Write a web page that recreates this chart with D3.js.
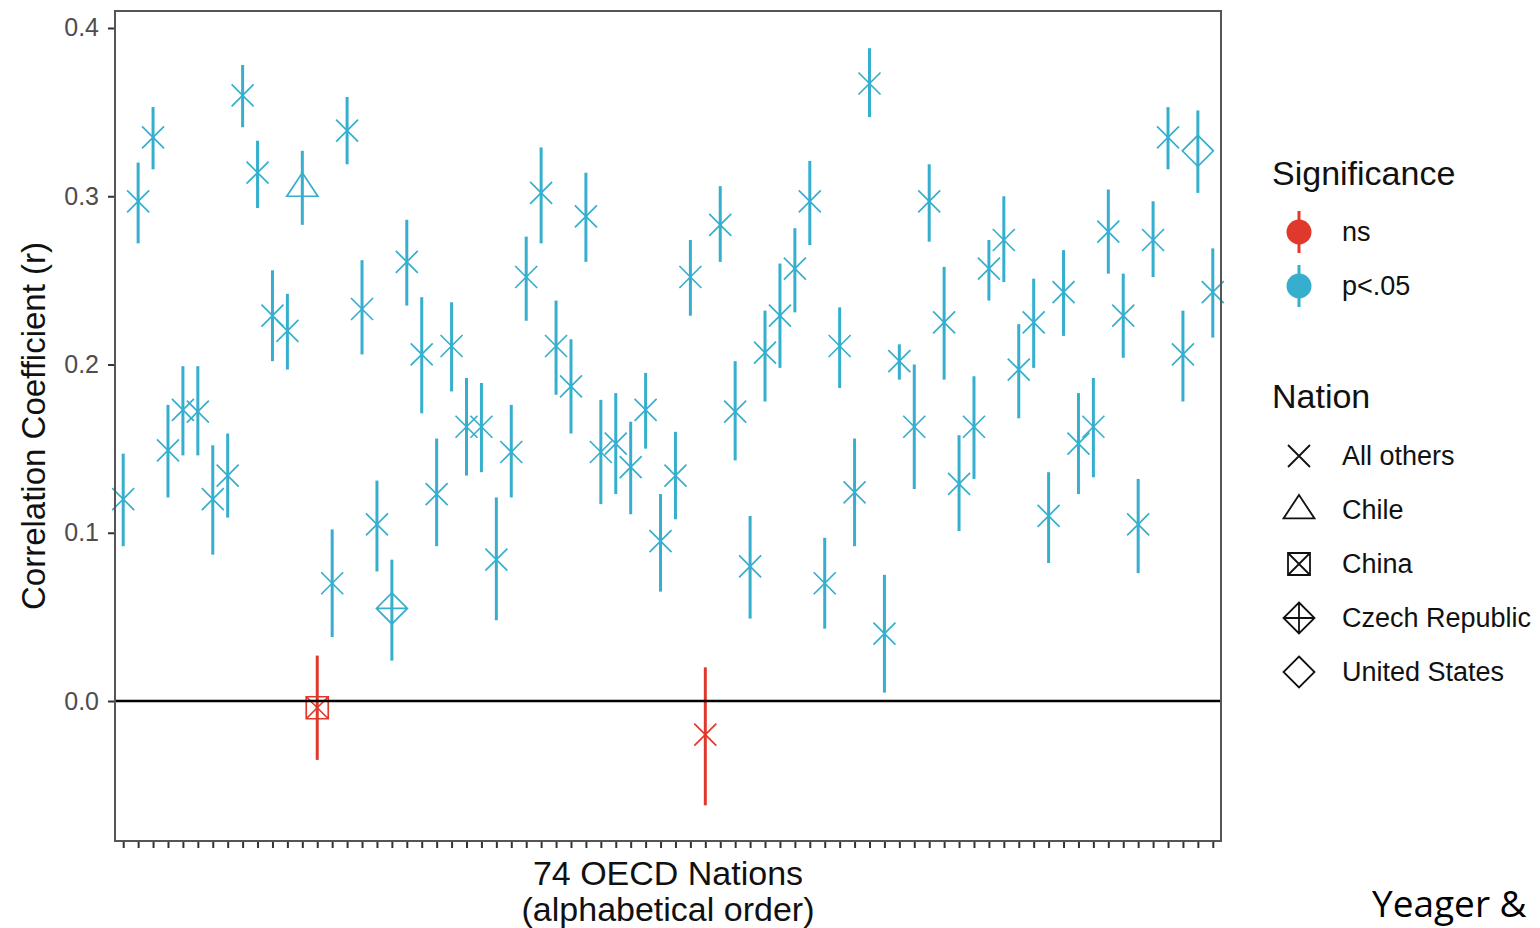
<!DOCTYPE html>
<html>
<head>
<meta charset="utf-8">
<script src="https://cdn.jsdelivr.net/npm/d3@7"></script>
<style>
    body { margin: 0; background: #fff; }
    svg { display: block; }
    text { font-family: "Liberation Sans", Arial, Helvetica, sans-serif; }
</style>
</head>
<body>
<div id="chart"></div>
<script>
// 74 OECD nations, alphabetical order (only the index is shown)
const nations = d3.range(1, 75).map(String);

// correlation estimates and their confidence limits
const estimates = [
    0.120, 0.297, 0.335, 0.149, 0.173, 0.172, 0.120, 0.134, 0.360, 0.314,
    0.229, 0.220, 0.305, -0.004, 0.070, 0.339, 0.233, 0.105, 0.055, 0.261,
    0.206, 0.123, 0.211, 0.163, 0.163, 0.084, 0.148, 0.252, 0.302, 0.211,
    0.187, 0.288, 0.148, 0.153, 0.139, 0.173, 0.095, 0.134, 0.252, -0.020,
    0.283, 0.172, 0.080, 0.207, 0.229, 0.257, 0.297, 0.070, 0.211, 0.124,
    0.367, 0.040, 0.202, 0.163, 0.297, 0.225, 0.129, 0.163, 0.257, 0.274,
    0.197, 0.225, 0.110, 0.243, 0.153, 0.163, 0.279, 0.229, 0.105, 0.274,
    0.335, 0.206, 0.327, 0.243
];
const ciLow = [
    0.092, 0.272, 0.316, 0.121, 0.146, 0.146, 0.087, 0.109, 0.341, 0.293,
    0.202, 0.197, 0.283, -0.035, 0.038, 0.319, 0.206, 0.077, 0.024, 0.235,
    0.171, 0.092, 0.184, 0.134, 0.136, 0.048, 0.121, 0.226, 0.272, 0.182,
    0.159, 0.261, 0.117, 0.123, 0.111, 0.150, 0.065, 0.108, 0.229, -0.062,
    0.261, 0.143, 0.049, 0.178, 0.198, 0.231, 0.271, 0.043, 0.186, 0.092,
    0.347, 0.005, 0.191, 0.126, 0.273, 0.191, 0.101, 0.132, 0.238, 0.249,
    0.168, 0.198, 0.082, 0.217, 0.123, 0.133, 0.254, 0.204, 0.076, 0.252,
    0.316, 0.178, 0.302, 0.216
];
const ciHigh = [
    0.147, 0.320, 0.353, 0.176, 0.199, 0.199, 0.152, 0.159, 0.378, 0.333,
    0.256, 0.242, 0.327, 0.027, 0.102, 0.359, 0.262, 0.131, 0.084, 0.286,
    0.240, 0.156, 0.237, 0.192, 0.189, 0.121, 0.176, 0.276, 0.329, 0.238,
    0.215, 0.314, 0.179, 0.183, 0.166, 0.195, 0.123, 0.160, 0.274, 0.020,
    0.306, 0.202, 0.110, 0.232, 0.260, 0.281, 0.321, 0.097, 0.234, 0.156,
    0.388, 0.075, 0.212, 0.200, 0.319, 0.258, 0.158, 0.193, 0.274, 0.300,
    0.224, 0.251, 0.136, 0.268, 0.183, 0.192, 0.304, 0.254, 0.132, 0.297,
    0.353, 0.232, 0.351, 0.269
];

// nations singled out with their own marker
const specialNations = ["Chile", "China", "Czech Republic", "United States"];
const specialIndex = [12, 13, 18, 72];

const nationLevels = ["All others", "Chile", "China", "Czech Republic", "United States"];
const sigLevels = ["ns", "p<.05"];
const yTicks = [0.0, 0.1, 0.2, 0.3, 0.4];

const colors = {"ns": "#E0392B", "p<.05": "#35AFCD"};

const data = nations.map((name, i) => {
    const k = specialIndex.indexOf(i);
    return {
        name: name,
        r: estimates[i],
        lo: ciLow[i],
        hi: ciHigh[i],
        sig: (ciLow[i] <= 0 && ciHigh[i] >= 0) ? "ns" : "p<.05",
        nation: k >= 0 ? specialNations[k] : "All others"
    };
});

const width = 1540, height = 928;
const margin = {top: 11, right: 319, bottom: 87, left: 115};
const plotW = width - margin.left - margin.right;
const plotH = height - margin.top - margin.bottom;

const x = d3.scalePoint()
    .domain(nations)
    .range([0, plotW])
    .padding(0.55);

const y = d3.scaleLinear()
    .domain([-0.0832, 0.4101])
    .range([plotH, 0]);

// marker outlines centred on 0,0
function shapePath(name) {
    const c = 11;
    switch (name) {
        case "Chile":
            return "M0,-15L15.5,8.4L-15.5,8.4Z";
        case "China":
            return `M${-c},${-c}H${c}V${c}H${-c}Z M${-c},${-c}L${c},${c}M${-c},${c}L${c},${-c}`;
        case "Czech Republic":
            return "M0,-15.5L15.5,0L0,15.5L-15.5,0Z M0,-15.5V15.5M-15.5,0H15.5";
        case "United States":
            return "M0,-15.5L15.5,0L0,15.5L-15.5,0Z";
        default:
            return `M${-c},${-c}L${c},${c}M${-c},${c}L${c},${-c}`;
    }
}

const svg = d3.select("#chart").append("svg")
    .attr("width", width)
    .attr("height", height);

const g = svg.append("g")
    .attr("transform", "translate(" + margin.left + "," + margin.top + ")");

// y axis
const yAxis = g.append("g")
    .call(d3.axisLeft(y).tickValues(yTicks).tickFormat(d3.format(".1f")).tickSize(7).tickPadding(9));
yAxis.select(".domain").remove();
yAxis.selectAll(".tick line").attr("stroke", "#333").attr("stroke-width", 2);
yAxis.selectAll(".tick text")
    .attr("fill", "#4d4d4d")
    .style("font-size", "25px");

// x axis (ticks only)
const xAxis = g.append("g")
    .attr("transform", "translate(0," + plotH + ")")
    .call(d3.axisBottom(x).tickSize(7).tickFormat(""));
xAxis.select(".domain").remove();
xAxis.selectAll(".tick line").attr("stroke", "#333").attr("stroke-width", 2);

// error bars
g.append("g").selectAll("line")
    .data(data)
    .join("line")
    .attr("x1", d => x(d.name))
    .attr("x2", d => x(d.name))
    .attr("y1", d => y(d.lo))
    .attr("y2", d => y(d.hi))
    .attr("stroke", d => colors[d.sig])
    .attr("stroke-width", 3);

// markers
g.append("g").selectAll("path")
    .data(data)
    .join("path")
    .attr("transform", d => "translate(" + x(d.name) + "," + y(d.r) + ")")
    .attr("d", d => shapePath(d.nation))
    .attr("fill", "none")
    .attr("stroke", d => colors[d.sig])
    .attr("stroke-width", 1.7);

// zero reference line
g.append("line")
    .attr("x1", 0)
    .attr("x2", plotW)
    .attr("y1", y(0))
    .attr("y2", y(0))
    .attr("stroke", "#000")
    .attr("stroke-width", 2.5);

// panel border
g.append("rect")
    .attr("width", plotW)
    .attr("height", plotH)
    .attr("fill", "none")
    .attr("stroke", "#555")
    .attr("stroke-width", 2);

// axis titles
svg.append("text")
    .attr("transform", "translate(33," + (margin.top + plotH / 2) + ") rotate(-90)")
    .attr("text-anchor", "middle")
    .attr("dominant-baseline", "central")
    .style("font-size", "33px")
    .attr("fill", "#111")
    .text("Correlation Coefficient (r)");

const xTitle = svg.append("text")
    .attr("text-anchor", "middle")
    .style("font-size", "34px")
    .attr("fill", "#111");
xTitle.append("tspan")
    .attr("x", margin.left + plotW / 2)
    .attr("y", 885)
    .text("74 OECD Nations");
xTitle.append("tspan")
    .attr("x", margin.left + plotW / 2)
    .attr("y", 921)
    .text("(alphabetical order)");

// legends
const legX = 1299;
const legend = svg.append("g");

legend.append("text")
    .attr("x", 1272)
    .attr("y", 185)
    .style("font-size", "34px")
    .attr("fill", "#111")
    .text("Significance");

const sigRows = legend.selectAll(".sig")
    .data(sigLevels)
    .join("g")
    .attr("class", "sig")
    .attr("transform", (d, i) => "translate(" + legX + "," + (232 + i * 54) + ")");
sigRows.append("line")
    .attr("y1", -21)
    .attr("y2", 21)
    .attr("stroke", d => colors[d])
    .attr("stroke-width", 3);
sigRows.append("circle")
    .attr("r", 12.5)
    .attr("fill", d => colors[d]);
sigRows.append("text")
    .attr("x", 43)
    .attr("dy", "0.35em")
    .style("font-size", "27px")
    .attr("fill", "#111")
    .text(d => d);

legend.append("text")
    .attr("x", 1272)
    .attr("y", 408)
    .style("font-size", "34px")
    .attr("fill", "#111")
    .text("Nation");

const nationRows = legend.selectAll(".nation")
    .data(nationLevels)
    .join("g")
    .attr("class", "nation")
    .attr("transform", (d, i) => "translate(" + legX + "," + (456 + i * 54) + ")");
nationRows.append("path")
    .attr("d", d => shapePath(d))
    .attr("fill", "none")
    .attr("stroke", "#111")
    .attr("stroke-width", 1.8);
nationRows.append("text")
    .attr("x", 43)
    .attr("dy", "0.35em")
    .style("font-size", "27px")
    .attr("fill", "#111")
    .text(d => d);

// slide footer fragment
svg.append("text")
    .attr("x", 1372)
    .attr("y", 917)
    .style("font-family", "'Open Sans', 'Noto Sans', sans-serif")
    .style("font-size", "37px")
    .attr("fill", "#000")
    .text("Yeager &");
</script>
</body>
</html>
